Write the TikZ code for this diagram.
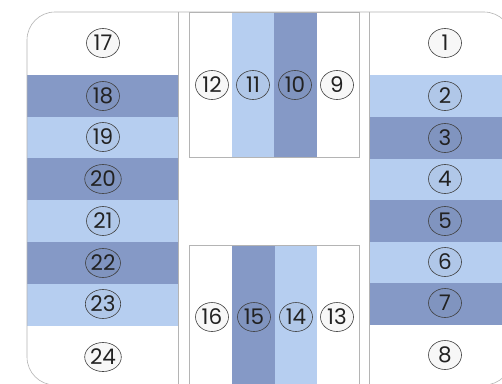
\documentclass[tikz,border=0pt]{standalone}
\usepackage{fontspec}
\setmainfont{Poppins}
\usetikzlibrary{shapes.geometric}
\definecolor{darkstripe}{HTML}{8599C6}
\definecolor{lightstripe}{HTML}{B6CEF0}
\definecolor{framegray}{HTML}{B4B4B4}
\definecolor{numtext}{HTML}{222222}
\tikzset{
  seat/.style={ellipse, draw=black!75, line width=0.6pt, minimum width=33pt, minimum height=29pt, inner sep=0pt,
    fill=black, fill opacity=0.03, text opacity=1, text=numtext, font=\fontsize{21.5}{22}\selectfont},
  frameline/.style={draw=framegray, line width=0.6pt},
  dk/.style={fill=darkstripe},
  lt/.style={fill=lightstripe}
}
\begin{document}
\begin{tikzpicture}[x=1pt,y=-1pt]
\useasboundingbox (0,0) rectangle (502,383);
\fill[white] (0,0) rectangle (502,383);
\begin{scope}
\clip[rounded corners=28pt] (27,12) rectangle (512,385);
% left panel stripes
\fill[dk] (27,75) rectangle (178,117);
\fill[lt] (27,117) rectangle (178,158);
\fill[dk] (27,158) rectangle (178,200);
\fill[lt] (27,200) rectangle (178,242);
\fill[dk] (27,242) rectangle (178,284);
\fill[lt] (27,284) rectangle (178,326);
% right panel stripes
\fill[lt] (370,75) rectangle (512,117);
\fill[dk] (370,117) rectangle (512,159);
\fill[lt] (370,159) rectangle (512,200);
\fill[dk] (370,200) rectangle (512,242);
\fill[lt] (370,242) rectangle (512,283);
\fill[dk] (370,283) rectangle (512,325);
% top box stripes
\fill[lt] (232,12) rectangle (274,157);
\fill[dk] (274,12) rectangle (317,157);
% bottom box stripes
\fill[dk] (232,245) rectangle (275,390);
\fill[lt] (275,245) rectangle (317,390);
\end{scope}
% frame
\draw[frameline, rounded corners=28pt] (27,12) rectangle (512,385);
\draw[frameline] (178,12) -- (178,385);
\draw[frameline] (369,12) -- (369,385);
\draw[frameline] (189,12) rectangle (359,157);
\draw[frameline] (189,390) -- (189,245) -- (359,245) -- (359,390);
% left panel seats
\node[seat] (c17) at (103,43) {17};
\node[seat] (c18) at (103,96) {18};
\node[seat] (c19) at (103,137) {19};
\node[seat] (c20) at (103,179) {20};
\node[seat] (c21) at (103,221) {21};
\node[seat] (c22) at (103,263) {22};
\node[seat] (c23) at (103,304) {23};
\node[seat] (c24) at (103,357) {24};
% right panel seats
\node[seat] (c1) at (445,43) {1};
\node[seat] (c2) at (445,96) {2};
\node[seat] (c3) at (445,138) {3};
\node[seat] (c4) at (445,179) {4};
\node[seat] (c5) at (445,221) {5};
\node[seat] (c6) at (445,262) {6};
\node[seat] (c7) at (445,303) {7};
\node[seat] (c8) at (445,355) {8};
% top box seats
\node[seat] (c12) at (212,85) {12};
\node[seat] (c11) at (253,85) {11};
\node[seat] (c10) at (295,85) {10};
\node[seat] (c9) at (337,85) {9};
% bottom box seats
\node[seat] (c16) at (212,317) {16};
\node[seat] (c15) at (254,317) {15};
\node[seat] (c14) at (296,317) {14};
\node[seat] (c13) at (337,317) {13};
\end{tikzpicture}
\end{document}
